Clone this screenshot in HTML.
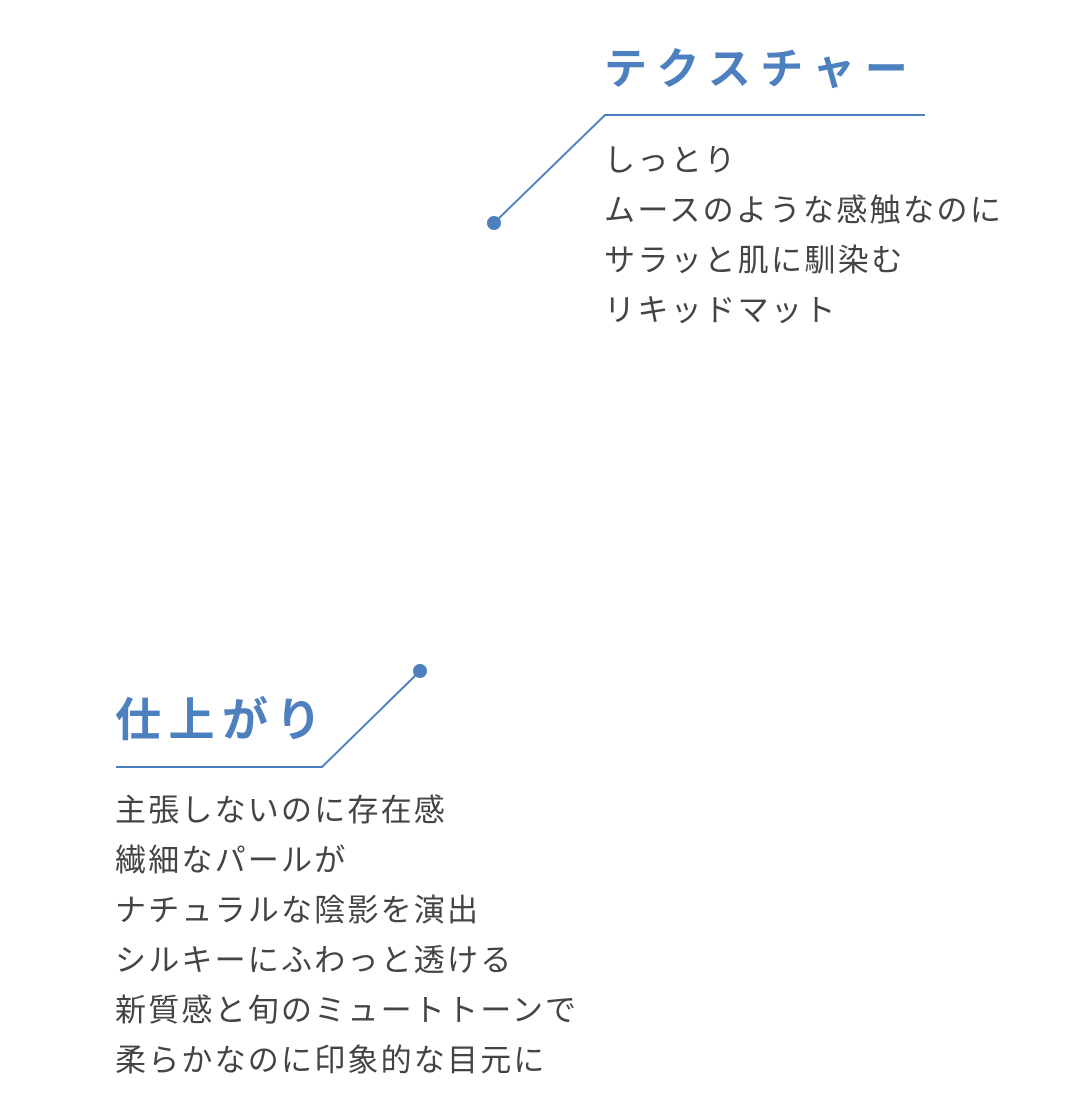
<!DOCTYPE html>
<html><head><meta charset="utf-8"><style>
html,body{margin:0;padding:0;background:#fff;width:1080px;height:1114px;overflow:hidden}
body{position:relative;font-family:"Liberation Sans","Noto Sans CJK JP",sans-serif}
.t{position:absolute;color:#4d80bf;font-weight:bold;white-space:nowrap}
.b{position:absolute;color:#444;font-size:31px;line-height:50px;letter-spacing:2.4px;white-space:nowrap}
svg{position:absolute;left:0;top:0}
</style></head><body>
<svg width="1080" height="1114">
<polyline points="494,223 605,115 925,115" fill="none" stroke="#4d80bf" stroke-width="2"/>
<circle cx="494" cy="223" r="7" fill="#4d80bf"/>
<polyline points="116,767 322,767 420,671" fill="none" stroke="#4d80bf" stroke-width="2"/>
<circle cx="420" cy="671" r="7" fill="#4d80bf"/>
</svg>
<div class="t" style="left:604px;top:42px;font-size:43px;line-height:56px;letter-spacing:9.5px">テクスチャー</div>
<div class="b" style="left:604px;top:136px">しっとり<br>ムースのような感触なのに<br>サラッと肌に馴染む<br>リキッドマット</div>
<div class="t" style="left:115px;top:690px;font-size:46px;line-height:60px;letter-spacing:7.5px">仕上がり</div>
<div class="b" style="left:115px;top:786px;letter-spacing:2.2px">主張しないのに存在感<br>繊細なパールが<br>ナチュラルな陰影を演出<br>シルキーにふわっと透ける<br>新質感と旬のミュートトーンで<br>柔らかなのに印象的な目元に</div>
</body></html>
